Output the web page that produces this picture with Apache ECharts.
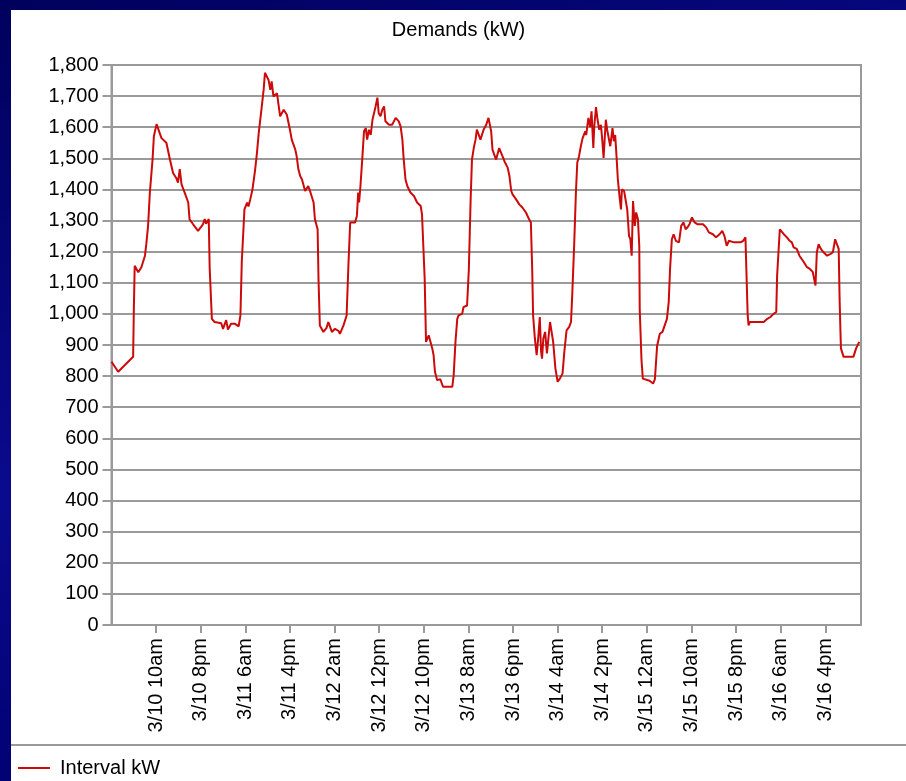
<!DOCTYPE html>
<html>
<head>
<meta charset="utf-8">
<script src="https://cdn.jsdelivr.net/npm/echarts@6/dist/echarts.min.js"></script>
<style>
html, body { margin: 0; padding: 0; }
#wrap {
    position: relative; width: 906px; height: 781px; overflow: hidden;
    background: linear-gradient(160deg, #00005c 0%, #0a0a8e 45%, #00006e 75%, #000080 100%);
}
#chart { position: absolute; left: 11px; top: 10px; width: 895px; height: 771px; background: #fff; }
</style>
</head>
<body>
<div id="wrap"><div id="chart"></div></div>
<script>
// hours since 3/10 12am, and the interval demand read at that time
var hours = [
    0, 1.5, 4.85, 5.0, 5.2, 6.0, 6.7, 7.5, 7.8, 8.2, 8.6, 9.2, 9.5, 10.1, 11.2, 12.3, 13.1, 13.8, 14.5, 14.9,
    15.3, 15.7, 16.4, 17.2, 17.5, 18.3, 19.4, 20.5, 20.9, 21.2, 21.8, 22.0, 22.5, 23.1, 24.6, 25.0, 25.7, 26.1,
    26.8, 27.7, 28.5, 28.9, 29.2, 29.8, 30.4, 30.7, 31.1, 31.6, 32.2, 32.6, 33.0, 33.6, 34.1, 34.4, 35.2, 35.6,
    35.9, 36.3, 37.1, 37.4, 37.8, 38.6, 39.3, 40.0, 40.4, 41.2, 41.5, 41.9, 42.3, 42.7, 43.4, 44.1, 44.5, 44.9,
    45.3, 45.6, 46.2, 46.4, 46.7, 47.5, 48.2, 48.6, 49.4, 50.1, 50.9, 51.2, 52.0, 52.7, 53.1, 53.5, 54.6, 55.0,
    55.3, 55.5, 55.8, 56.2, 56.6, 57.0, 57.3, 57.7, 58.1, 58.5, 58.8, 59.2, 59.6, 59.9, 60.3, 60.7, 61.1, 61.4,
    62.2, 62.9, 63.3, 63.7, 64.1, 64.4, 64.8, 65.2, 65.5, 65.9, 66.3, 67.0, 67.8, 68.5, 69.3, 69.6, 70.0, 70.2,
    70.5, 71.1, 71.5, 71.9, 72.2, 72.5, 73.0, 73.7, 74.3, 76.4, 76.7, 77.1, 77.5, 77.8, 78.6, 78.9, 79.7, 80.1,
    80.5, 80.8, 81.2, 81.6, 81.9, 82.7, 83.4, 84.0, 84.5, 85.1, 85.4, 86.2, 86.9, 87.7, 88.1, 88.8, 89.2, 89.6,
    89.9, 90.7, 91.4, 92.1, 92.9, 93.6, 94.0, 94.3, 94.5, 94.9, 95.3, 95.7, 96.0, 96.3, 96.5, 96.8, 97.2, 97.6,
    98.0, 98.3, 98.7, 99.0, 99.5, 100.0, 100.5, 101.1, 101.5, 102.0, 102.6, 103.0, 103.3, 103.7, 104.1, 104.4,
    104.8, 105.2, 105.6, 106.2, 106.4, 106.9, 107.3, 107.6, 108.0, 108.2, 108.6, 108.9, 109.3, 109.7, 110.0,
    110.3, 110.8, 111.1, 111.5, 111.8, 112.3, 112.6, 112.9, 113.2, 113.5, 113.9, 114.2, 114.4, 114.9, 115.3,
    115.6, 116.0, 116.3, 116.6, 116.9, 117.3, 117.6, 118.0, 118.3, 118.4, 118.8, 119.1, 120.6, 121.4, 121.8,
    122.3, 122.9, 123.5, 124.0, 124.5, 124.9, 125.2, 125.6, 126.0, 126.5, 127.2, 127.7, 128.2, 128.7, 129.2,
    129.6, 130.1, 130.7, 131.4, 132.6, 133.3, 133.9, 134.8, 135.5, 136.3, 136.9, 137.4, 137.9, 138.4, 139.5,
    141.0, 141.6, 142.1, 142.3, 142.6, 142.8, 143.1, 146.2, 147.0, 147.7, 148.4, 149.0, 149.2, 149.6, 149.8,
    150.7, 151.4, 152.0, 152.5, 152.9, 153.6, 154.2, 155.2, 155.9, 156.6, 157.2, 157.8, 158.1, 158.5, 159.0,
    159.6, 160.4, 161.1, 161.7, 162.2, 162.6, 163.0, 163.2, 163.5, 164.1, 166.3, 166.9, 167.6
];
var kw = [
    846, 814, 862, 1011, 1155, 1134, 1150, 1187, 1224, 1283, 1390, 1496, 1571, 1610, 1565, 1550, 1496, 1453, 1437, 1422,
    1465, 1416, 1390, 1358, 1304, 1288, 1267, 1288, 1305, 1290, 1305, 1150, 984, 974, 970, 952, 980, 950,
    968, 968, 960, 995, 1166, 1336, 1358, 1345, 1368, 1400, 1464, 1517, 1581, 1656, 1720, 1775, 1752, 1720,
    1747, 1699, 1709, 1677, 1635, 1656, 1640, 1592, 1560, 1528, 1507, 1464, 1443, 1432, 1395, 1411, 1395, 1390,
    1358, 1304, 1272, 1112, 963, 942, 955, 974, 942, 952, 945, 936, 963, 995, 1155, 1294, 1294, 1315,
    1390, 1358, 1411, 1496, 1587, 1597, 1560, 1592, 1575, 1624, 1630, 1667, 1695, 1645, 1635, 1656, 1667, 1619,
    1608, 1608, 1613, 1630, 1635, 1619, 1603, 1560, 1496, 1432, 1411, 1390, 1379, 1358, 1347, 1320, 1315, 1112,
    910, 931, 925, 889, 867, 814, 787, 790, 766, 766, 803, 910, 984, 995, 1000, 1022, 1027, 1144,
    1368, 1496, 1533, 1560, 1592, 1560, 1592, 1608, 1630, 1587, 1528, 1496, 1533, 1505, 1490, 1470, 1443, 1395,
    1384, 1368, 1352, 1342, 1326, 1304, 1294, 1144, 995, 921, 867, 931, 990, 878, 856, 921, 942, 873,
    931, 974, 974, 910, 825, 782, 792, 808, 878, 947, 958, 974, 1070, 1219, 1390, 1486,
    1507, 1539, 1565, 1587, 1575, 1630, 1600, 1651, 1533, 1600, 1665, 1630, 1592, 1608, 1560,
    1501, 1624, 1592, 1587, 1539, 1597, 1555, 1575, 1507, 1432, 1374, 1336, 1400, 1395, 1390,
    1336, 1251, 1240, 1187, 1363, 1283, 1326, 1304, 1219, 1016, 851, 792, 785, 776, 790,
    897, 936, 942, 963, 984, 1038, 1144, 1240, 1256, 1235, 1230, 1283, 1294, 1272, 1280,
    1290, 1310, 1294, 1288, 1288, 1278, 1262, 1256, 1246, 1256, 1267, 1250, 1219, 1235, 1230,
    1230, 1235, 1246, 1144, 995, 963, 974, 974, 984, 990, 1000, 1006, 1123, 1125, 1272,
    1256, 1246, 1235, 1230, 1214, 1209, 1187, 1166, 1150, 1144, 1134, 1091, 1198, 1224, 1209,
    1198, 1187, 1192, 1198, 1240, 1224, 1209, 1049, 889, 862, 862, 889, 910
];
var tickHours = [10, 20, 30, 40, 50, 60, 70, 80, 90, 100, 110, 120, 130, 140, 150, 160];
var tickLabels = [
    "3/10 10am", "3/10 8pm", "3/11 6am", "3/11 4pm", "3/12 2am", "3/12 12pm", "3/12 10pm", "3/13 8am",
    "3/13 6pm", "3/14 4am", "3/14 2pm", "3/15 12am", "3/15 10am", "3/15 8pm", "3/16 6am", "3/16 4pm"
];
var seriesName = "Interval kW";

var seriesData = [];
for (var i = 0; i < hours.length; i++) {
    seriesData.push([hours[i], kw[i]]);
}

var font = "'Liberation Sans', Arial, sans-serif";
var lineColor = "#cc0a0a";
var myChart = echarts.init(document.getElementById("chart"), null, {renderer: "canvas"});

var option = {
    animation: false,
    title: {
        text: "Demands (kW)",
        left: "center",
        top: 10,
        padding: 0,
        textStyle: {fontFamily: font, fontSize: 20, fontWeight: "normal", color: "#000"}
    },
    legend: {
        data: [seriesName],
        left: 7,
        top: 748,
        padding: 0,
        icon: "rect",
        itemWidth: 32,
        itemHeight: 2,
        itemGap: 10,
        textStyle: {fontFamily: font, fontSize: 20, color: "#000", padding: [0, 0, 0, 5]}
    },
    grid: {
        show: true,
        left: 100.5,
        right: 45,
        top: 55,
        bottom: 156,
        borderColor: "#9a9a9a",
        borderWidth: 2,
        backgroundColor: "#fff"
    },
    xAxis: {
        type: "value",
        min: 0,
        max: 168,
        interval: 10,
        axisLine: {show: true, lineStyle: {color: "#9a9a9a", width: 2}},
        axisTick: {show: true, length: 8, lineStyle: {color: "#9a9a9a", width: 2}, customValues: tickHours},
        splitLine: {show: false},
        axisLabel: {
            rotate: 90,
            margin: 13,
            fontFamily: font,
            fontSize: 20,
            color: "#000",
            customValues: tickHours,
            formatter: function (v) {
                var k = tickHours.indexOf(Math.round(v));
                return k >= 0 ? tickLabels[k] : "";
            }
        }
    },
    yAxis: {
        type: "value",
        min: 0,
        max: 1800,
        interval: 100,
        axisLine: {show: true, lineStyle: {color: "#9a9a9a", width: 2}},
        axisTick: {show: true, length: 9, lineStyle: {color: "#9a9a9a", width: 2}},
        splitLine: {show: true, lineStyle: {color: "#9a9a9a", width: 2}},
        axisLabel: {
            margin: 13,
            fontFamily: font,
            fontSize: 20,
            color: "#000",
            formatter: function (v) {
                return v.toString().replace(/\B(?=(\d{3})+(?!\d))/g, ",");
            }
        }
    },
    graphic: [{
        type: "line",
        shape: {x1: 0, y1: 735, x2: 895, y2: 735},
        style: {stroke: "#9a9a9a", lineWidth: 2}
    }],
    series: [{
        name: seriesName,
        type: "line",
        data: seriesData,
        symbol: "none",
        lineStyle: {color: lineColor, width: 2},
        itemStyle: {color: lineColor}
    }]
};
myChart.setOption(option);
</script>
</body>
</html>
